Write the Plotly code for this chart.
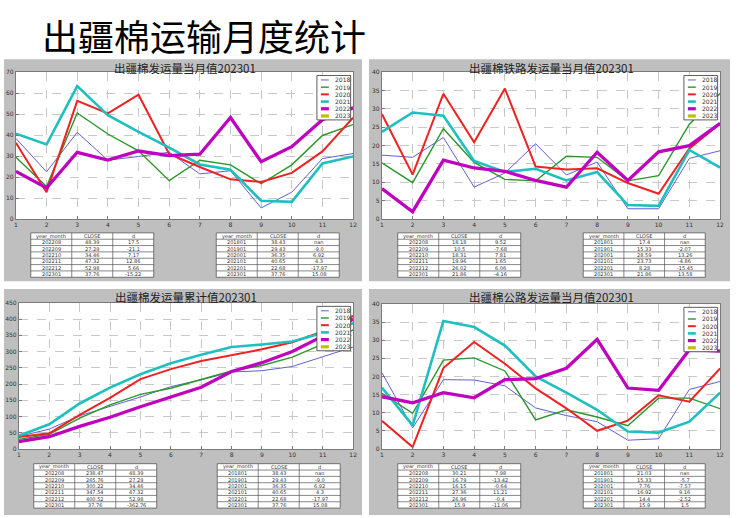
import plotly.graph_objects as go

W, H = 738, 518

months = list(range(1, 13))
years = ["2018", "2019", "2020", "2021", "2022", "2023"]

# ---- Panel 1: 出疆棉发运量当月值 ----
total_2018 = [38.43, 22.5, 41.3, 28.0, 29.8, 31.8, 21.5, 23.0, 5.3, 12.8, 28.8, 31.2]
total_2019 = [29.43, 15.5, 50.5, 40.5, 32.5, 18.3, 28.0, 25.8, 16.8, 25.8, 39.8, 45.0]
total_2020 = [36.35, 12.8, 56.3, 50.3, 59.2, 31.0, 24.8, 18.9, 17.7, 22.0, 32.2, 48.3]
total_2021 = [40.65, 35.5, 63.3, 49.5, 41.5, 34.0, 26.0, 23.5, 8.7, 8.2, 26.5, 29.8]
total_2022 = [22.68, 14.8, 31.8, 28.1, 32.4, 30.2, 30.89, 48.39, 27.29, 34.46, 47.32, 52.98]
total_2023 = [37.76]

# ---- Panel 2: 出疆棉铁路发运量当月值 ----
rail_2018 = [17.4, 16.8, 22.2, 8.7, 12.5, 20.5, 12.0, 15.5, 2.8, 2.8, 16.5, 18.6]
rail_2019 = [15.33, 9.9, 24.6, 15.4, 10.8, 10.4, 17.1, 16.8, 10.4, 11.8, 25.8, 34.2]
rail_2020 = [28.59, 12.1, 34.1, 20.9, 35.5, 14.3, 13.5, 13.8, 9.8, 6.9, 19.2, 26.0]
rail_2021 = [23.73, 29.0, 28.1, 15.8, 12.8, 13.7, 10.5, 12.8, 3.8, 3.6, 18.8, 14.0]
rail_2022 = [8.28, 2.0, 16.0, 13.9, 13.0, 10.5, 8.66, 18.18, 10.5, 18.31, 19.96, 26.02]
rail_2023 = [21.86]

# ---- Panel 3: 出疆棉发运量累计值 ----
cum_2018 = [38.43, 61, 102, 130, 160, 192, 213, 237, 241, 254, 283, 314]
cum_2019 = [29.43, 45, 95, 136, 168, 187, 214, 240, 257, 283, 323, 367]
cum_2020 = [36.35, 48, 105, 157, 215, 246, 271, 290, 307, 329, 362, 410]
cum_2021 = [40.65, 76, 140, 189, 230, 264, 290, 314, 322, 331, 357, 387]
cum_2022 = [22.68, 37.5, 69.5, 97.5, 130, 160, 190.08, 238.47, 265.76, 300.22, 347.54, 400.52]
cum_2023 = [37.76]

# ---- Panel 4: 出疆棉公路发运量当月值 ----
road_2018 = [21.03, 5.8, 19.1, 19.0, 17.4, 11.3, 9.2, 7.5, 2.4, 2.8, 16.4, 18.6]
road_2019 = [15.33, 9.8, 24.5, 25.1, 21.5, 8.0, 10.8, 8.8, 6.4, 14.0, 14.0, 11.1]
road_2020 = [7.76, 0.5, 22.3, 29.5, 23.5, 16.7, 11.2, 5.0, 7.8, 14.8, 13.0, 22.2]
road_2021 = [16.92, 6.5, 35.3, 33.6, 28.5, 20.0, 15.5, 10.8, 4.8, 4.5, 7.5, 15.5]
road_2022 = [14.4, 12.7, 15.5, 14.1, 19.1, 19.4, 22.23, 30.21, 16.79, 16.15, 27.36, 26.96]
road_2023 = [15.9]

# ---- Tables ----
table_header = ["year_month", "CLOSE", "d"]
recent_months = ["202208", "202209", "202210", "202211", "202212", "202301"]
jan_months = ["201801", "201901", "202001", "202101", "202201", "202301"]

total_recent_close = ["48.39", "27.29", "34.46", "47.32", "52.98", "37.76"]
total_recent_d = ["17.5", "-21.1", "7.17", "12.86", "5.66", "-15.22"]
total_jan_close = ["38.43", "29.43", "36.35", "40.65", "22.68", "37.76"]
total_jan_d = ["nan", "-9.0", "6.92", "4.3", "-17.97", "15.08"]

rail_recent_close = ["18.18", "10.5", "18.31", "19.96", "26.02", "21.86"]
rail_recent_d = ["9.52", "-7.68", "7.81", "1.65", "6.06", "-4.16"]
rail_jan_close = ["17.4", "15.33", "28.59", "23.73", "8.28", "21.86"]
rail_jan_d = ["nan", "-2.07", "13.26", "-4.86", "-15.45", "13.58"]

cum_recent_close = ["238.47", "265.76", "300.22", "347.54", "400.52", "37.76"]
cum_recent_d = ["48.39", "27.29", "34.46", "47.32", "52.98", "-362.76"]
cum_jan_close = ["38.43", "29.43", "36.35", "40.65", "22.68", "37.76"]
cum_jan_d = ["nan", "-9.0", "6.92", "4.3", "-17.97", "15.08"]

road_recent_close = ["30.21", "16.79", "16.15", "27.36", "26.96", "15.9"]
road_recent_d = ["7.98", "-13.42", "-0.64", "11.21", "-0.4", "-11.06"]
road_jan_close = ["21.03", "15.33", "7.76", "16.92", "14.4", "15.9"]
road_jan_d = ["nan", "-5.7", "-7.57", "9.16", "-2.52", "1.5"]

titles = ["出疆棉发运量当月值202301", "出疆棉铁路发运量当月值202301",
          "出疆棉发运量累计值202301", "出疆棉公路发运量当月值202301"]

# ---- styles ----
colors = ["#5f5fd2", "#2a962a", "#ee2222", "#1fbfbf", "#bf00bf", "#bfbf00"]
widths = [1.0, 1.4, 2.0, 2.6, 3.3, 4.0]
GRAY = "#bfbfbf"
FONT = "Noto Sans CJK SC"


def fx(px):
    return px / W


def fy(py):
    return 1 - py / H


panels = [
    dict(series=[total_2018, total_2019, total_2020, total_2021, total_2022, total_2023],
         yr=[0, 70], dt=10, bg=(2, 56, 363, 281), plot=(14, 69, 354, 218), title_y=64.5,
         tables=[(29, 153, 232, 277, [recent_months, total_recent_close, total_recent_d]),
                 (216, 340, 232, 277, [jan_months, total_jan_close, total_jan_d])]),
    dict(series=[rail_2018, rail_2019, rail_2020, rail_2021, rail_2022, rail_2023],
         yr=[0, 40], dt=5, bg=(370, 56, 734, 281), plot=(383, 69, 724, 218), title_y=64.5,
         tables=[(399, 523, 232, 277, [recent_months, rail_recent_close, rail_recent_d]),
                 (586, 709, 232, 277, [jan_months, rail_jan_close, rail_jan_d])]),
    dict(series=[cum_2018, cum_2019, cum_2020, cum_2021, cum_2022, cum_2023],
         yr=[0, 450], dt=50, bg=(2, 289, 363, 518), plot=(17, 303, 354, 451), title_y=297.5,
         tables=[(32, 156, 466, 511, [recent_months, cum_recent_close, cum_recent_d]),
                 (217, 341, 466, 511, [jan_months, cum_jan_close, cum_jan_d])]),
    dict(series=[road_2018, road_2019, road_2020, road_2021, road_2022, road_2023],
         yr=[0, 40], dt=5, bg=(370, 289, 734, 518), plot=(383, 304, 724, 451), title_y=297.5,
         tables=[(399, 523, 466, 511, [recent_months, road_recent_close, road_recent_d]),
                 (586, 709, 466, 511, [jan_months, road_jan_close, road_jan_d])]),
]

fig = go.Figure()
shapes = []
annotations = []
layout = {}

for i, p in enumerate(panels):
    k = "" if i == 0 else str(i + 1)
    xa, ya = "x" + k, "y" + k
    x0, y0, x1, y1 = p["plot"]
    axis_common = dict(
        showgrid=True, gridcolor="#c8c8c8", griddash="dash", gridwidth=0.8,
        showline=True, mirror=True, linecolor="#7a7a7a", linewidth=1,
        ticks="inside", ticklen=3, tickcolor="#7a7a7a", zeroline=False,
        tickfont=dict(size=6, color="#333333", family="DejaVu Sans"))
    layout["xaxis" + k] = dict(domain=[fx(x0), fx(x1)], range=[1, 12], anchor=ya,
                               tickmode="linear", tick0=1, dtick=1, **axis_common)
    layout["yaxis" + k] = dict(domain=[fy(y1), fy(y0)], range=p["yr"], anchor=xa,
                               tickmode="linear", tick0=0, dtick=p["dt"], **axis_common)

    for j, vals in enumerate(p["series"]):
        fig.add_trace(go.Scatter(
            x=months[:len(vals)], y=vals, mode="lines", name=years[j],
            line=dict(color=colors[j], width=widths[j]), xaxis=xa, yaxis=ya,
            showlegend=False, hoverinfo="skip"))

    # gray panel background and white plot area
    bx0, by0, bx1, by1 = p["bg"]
    shapes.append(dict(type="rect", xref="paper", yref="paper", layer="below",
                       x0=fx(bx0), x1=fx(bx1), y0=fy(by1), y1=fy(by0),
                       fillcolor=GRAY, line=dict(width=0)))
    shapes.append(dict(type="rect", xref="paper", yref="paper", layer="below",
                       x0=fx(x0), x1=fx(x1), y0=fy(y1), y1=fy(y0),
                       fillcolor="white", line=dict(width=0)))

    # panel title
    annotations.append(dict(text=titles[i], x=fx((x0 + x1) / 2), y=fy(p["title_y"]),
                            xref="paper", yref="paper", xanchor="center", yanchor="middle",
                            showarrow=False, font=dict(size=11.5, color="#222222", family=FONT)))

    # legend (manual, matplotlib style)
    lx1 = x1 - 2.5
    lx0 = lx1 - 34
    ly0 = y0 + 3.5
    ly1 = ly0 + 45
    shapes.append(dict(type="rect", xref="paper", yref="paper", layer="above",
                       x0=fx(lx0), x1=fx(lx1), y0=fy(ly1), y1=fy(ly0),
                       fillcolor="white", line=dict(color="#333333", width=0.8)))
    for j, yname in enumerate(years):
        cy = ly0 + 4.5 + j * 7.3
        shapes.append(dict(type="line", xref="paper", yref="paper", layer="above",
                           x0=fx(lx0 + 4), x1=fx(lx0 + 12), y0=fy(cy), y1=fy(cy),
                           line=dict(color=colors[j], width=min(widths[j], 3.2))))
        annotations.append(dict(text=yname, x=fx(lx0 + 16), y=fy(cy), xref="paper", yref="paper",
                                xanchor="left", yanchor="middle", showarrow=False,
                                font=dict(size=6, color="#333333", family="DejaVu Sans")))

    # tables (drawn as cells)
    for (tx0, tx1, ty0, ty1, cols) in p["tables"]:
        nrows = len(cols[0]) + 1
        rh = (ty1 - ty0) / nrows
        cw = (tx1 - tx0) / 3
        shapes.append(dict(type="rect", xref="paper", yref="paper", layer="above",
                           x0=fx(tx0), x1=fx(tx1), y0=fy(ty1), y1=fy(ty0),
                           fillcolor="white", line=dict(color="#555555", width=0.8)))
        for r in range(1, nrows):
            yy = ty0 + r * rh
            shapes.append(dict(type="line", xref="paper", yref="paper", layer="above",
                               x0=fx(tx0), x1=fx(tx1), y0=fy(yy), y1=fy(yy),
                               line=dict(color="#555555", width=0.7)))
        for c in range(1, 3):
            xx = tx0 + c * cw
            shapes.append(dict(type="line", xref="paper", yref="paper", layer="above",
                               x0=fx(xx), x1=fx(xx), y0=fy(ty1), y1=fy(ty0),
                               line=dict(color="#555555", width=0.7)))
        rows = [table_header] + [[cols[0][r], cols[1][r], cols[2][r]] for r in range(len(cols[0]))]
        for r, row in enumerate(rows):
            for c, txt in enumerate(row):
                annotations.append(dict(
                    text=txt, x=fx(tx0 + (c + 0.5) * cw), y=fy(ty0 + (r + 0.5) * rh),
                    xref="paper", yref="paper", xanchor="center", yanchor="middle",
                    showarrow=False, borderpad=0,
                    font=dict(size=5, color="#333333", family="DejaVu Sans")))

annotations.append(dict(text="出疆棉运输月度统计", x=fx(38), y=fy(31), xref="paper", yref="paper",
                        xanchor="left", yanchor="middle", showarrow=False,
                        font=dict(size=36, color="#000000", family=FONT)))

fig.update_layout(
    width=W, height=H, margin=dict(l=0, r=0, t=0, b=0),
    paper_bgcolor="white", plot_bgcolor="white",
    shapes=shapes, annotations=annotations, showlegend=False,
    **layout)

fig.write_html("out.html")
